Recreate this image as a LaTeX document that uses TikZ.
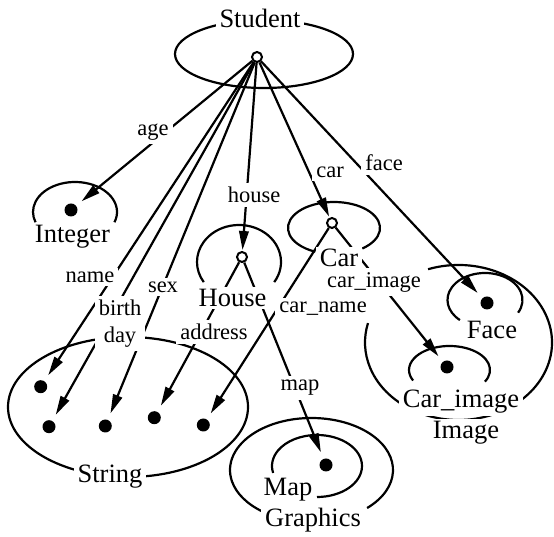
\documentclass[tikz,border=0pt]{standalone}
\usepackage{fontspec}
\setmainfont{Liberation Serif}
\usetikzlibrary{arrows.meta}

\tikzset{
  ln/.style={line width=2.2pt},
  dotn/.style={circle, fill=black, inner sep=0pt, minimum size=13pt},
  hub/.style={circle, draw, line width=2pt, fill=white, inner sep=0pt, minimum size=10pt},
  rel/.style={line width=2.2pt, -{Triangle[length=19pt,width=9.5pt]}},
  todot/.style={shorten >=7pt},
  tohub/.style={shorten >=1pt},
  rellab/.style={fill=white, inner sep=4pt, font=\fontsize{22.5}{27}\selectfont},
  typelab/.style={fill=white, inner xsep=4pt, inner ysep=2pt, font=\fontsize{26.5}{28}\selectfont},
}

\begin{document}
\begin{tikzpicture}[x=1pt, y=1pt]
\useasboundingbox (0,0) rectangle (554,537);

% object points
\node[hub]  (S)   at (257,480) {};
\node[dotn] (int) at (71,327) {};
\node[dotn] (s1)  at (40.7,150.3) {};
\node[dotn] (s2)  at (49,110.3) {};
\node[dotn] (s3)  at (105.3,111) {};
\node[dotn] (s4)  at (154.3,119.3) {};
\node[dotn] (s5)  at (203.3,112) {};
\node[hub]  (H)   at (242,280) {};
\node[hub]  (C)   at (332,314) {};
\node[dotn] (fd)  at (487,234) {};
\node[dotn] (cid) at (447,170) {};
\node[dotn] (md)  at (326,72) {};

% type extents
\draw[ln] (264,483) ellipse[x radius=89, y radius=34];                     % Student
\draw[ln] ([shift={(-20:42 and 30)}]75,325) arc[start angle=-20, end angle=200, x radius=42, y radius=30]; % Integer
\draw[ln] (128,130) ellipse[x radius=120, y radius=70];                    % String
\draw[ln] ([shift={(-33:42 and 37)}]239,275) arc[start angle=-33, end angle=213, x radius=42, y radius=37]; % House
\draw[ln] ([shift={(-52:46 and 26)}]334,309) arc[start angle=-52, end angle=246, x radius=46, y radius=26]; % Car
\draw[ln] ([shift={(-28:37.5 and 27)}]485,237) arc[start angle=-28, end angle=228, x radius=37.5, y radius=27]; % Face
\draw[ln] ([shift={(109:93.5 and 77.5)}]458.5,194.5) arc[start angle=109, end angle=-194.5, x radius=93.5, y radius=77.5]; % Image
\draw[ln] ([shift={(-29:40.5 and 24)}]449.5,167) arc[start angle=-29, end angle=206, x radius=40.5, y radius=24]; % Car_image
\draw[ln] ([shift={(-47:81.5 and 52)}]311.5,67) arc[start angle=-47, end angle=233, x radius=81.5, y radius=52]; % Graphics
\draw[ln] ([shift={(-90:45 and 31)}]317,71) arc[start angle=-90, end angle=193, x radius=45, y radius=31]; % Map

% attributes
\draw[rel, todot] (S) -- (int);
\draw[rel, todot] (S) -- (s1);
\draw[rel, todot] (S) -- (s2);
\draw[rel, todot] (S) -- (s3);
\draw[rel, tohub] (S) -- (H);
\draw[rel, tohub] (S) -- (C);
\draw[rel, todot] (S) -- (fd);
\draw[rel, todot] (H) -- (s4);
\draw[rel, todot] (H) -- (md);
\draw[rel, todot] (C) -- (s5);
\draw[rel, todot] (C) -- (cid);

% attribute names
\node[rellab] (lage)  at (153,405) {age};
\node[rellab] (lname) at (90,260) {name};
\node[rellab, align=center] (lbd) at (120,213.5) {birth\\day};
\node[rellab] (lsex)  at (163,250) {sex};
\node[rellab] (lhouse) at (254,342) {house};
\node[rellab] (lcar)  at (330,365) {car};
\node[rellab] (lface) at (384,374) {face};
\node[rellab] (laddr) at (214,205) {address};
\node[rellab] (lmap)  at (300,149) {map};
\node[rellab] (lcname) at (323,228) {car\_name};
\node[rellab] (lcimg) at (374,255) {car\_image};

% type names
\node[typelab] (tstu)  at (260,519) {Student};
\node[typelab] (tint)  at (72.5,300) {Integer};
\node[typelab] (tstr)  at (110,60) {String};
\node[typelab] (thou)  at (232.5,239) {House};
\node[typelab] (tcar)  at (339,279) {Car};
\node[typelab] (tface) at (492,207) {Face};
\node[typelab] (tcimg) at (461,135) {Car\_image};
\node[typelab] (timg)  at (466,104) {Image};
\node[typelab] (tmap)  at (288,47) {Map};
\node[typelab] (tgra)  at (313,17) {Graphics};
\end{tikzpicture}
\end{document}
